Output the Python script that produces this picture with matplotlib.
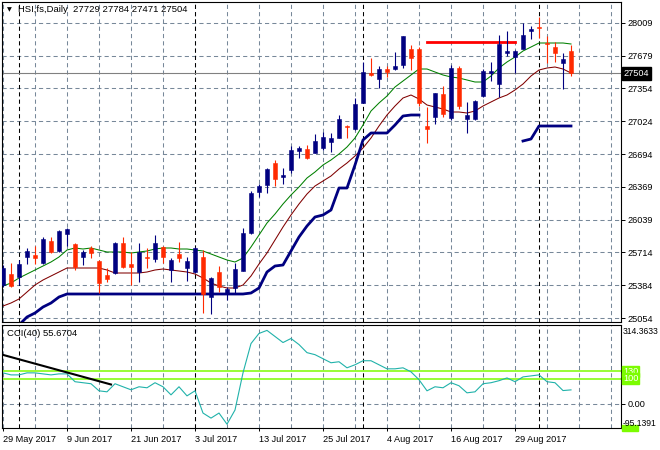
import numpy as np
import matplotlib.pyplot as plt
import matplotlib.transforms as mtransforms
from matplotlib.patches import Rectangle

plt.rcParams['font.family'] = ['Liberation Sans', 'DejaVu Sans']

nan = float('nan')

# daily OHLC, HSI futures, 29 May - 7 Sep 2017
opens = [25386, 25496, 25466, 25666, 25686, 25606, 25826, 25726, 25896, 25796,
         25666, 25756, 25626, 25486, 25506, 25806, 25596, 25516, 25666, 25646,
         25766, 25536, 25696, 25556, 25516, 25666, 25266, 25516, 25306, 25356,
         25526, 25906, 26316, 26386, 26606, 26466, 26536, 26726, 26746, 26706,
         26756, 26816, 26856, 26976, 26946, 27206, 27506, 27446, 27546, 27546,
         27586, 27746, 27746, 26976, 27066, 27296, 27056, 27556, 27046, 27046,
         27276, 27506, 27396, 27706, 27666, 27746, 27926, 27966, 27806, 27766,
         27606, 27729]
highs = [25586, 25606, 25636, 25756, 25776, 25866, 25866, 25936, 25956, 25806,
         25736, 25776, 25636, 25556, 25816, 25866, 25716, 25806, 25756, 25886,
         25776, 25656, 25816, 25666, 25766, 25736, 25466, 25576, 25366, 25606,
         25956, 26326, 26396, 26556, 26636, 26556, 26776, 26776, 26786, 26896,
         26916, 26906, 27086, 26986, 27256, 27616, 27656, 27576, 27576, 27716,
         27876, 27786, 27766, 27166, 27306, 27376, 27586, 27576, 27216, 27236,
         27546, 27616, 27886, 27926, 27736, 28006, 27976, 28066, 27876, 27816,
         27706, 27784]
lows = [25366, 25366, 25386, 25596, 25596, 25596, 25706, 25716, 25776, 25536,
        25586, 25656, 25306, 25416, 25496, 25556, 25386, 25416, 25556, 25616,
        25606, 25416, 25616, 25426, 25506, 25106, 25096, 25316, 25236, 25306,
        25526, 25896, 26266, 26306, 26376, 26396, 26506, 26656, 26646, 26706,
        26736, 26716, 26856, 26856, 26936, 27206, 27476, 27356, 27466, 27536,
        27556, 27536, 27176, 26806, 26996, 27066, 27036, 27146, 26906, 27036,
        27266, 27426, 27266, 27676, 27506, 27746, 27846, 27856, 27606, 27616,
        27346, 27471]
closes = [25556, 25376, 25596, 25726, 25656, 25846, 25716, 25926, 25946, 25566,
          25716, 25706, 25406, 25446, 25806, 25566, 25566, 25716, 25656, 25806,
          25666, 25636, 25656, 25626, 25756, 25296, 25456, 25366, 25346, 25546,
          25906, 26306, 26376, 26546, 26446, 26486, 26736, 26756, 26656, 26826,
          26866, 26856, 27046, 26966, 27196, 27516, 27486, 27546, 27516, 27576,
          27876, 27656, 27206, 26946, 27306, 27096, 27556, 27176, 27086, 27226,
          27526, 27526, 27796, 27726, 27726, 27886, 27946, 27956, 27796, 27706,
          27646, 27504]

# indicator lines
ma_green = [25376, 25406, 25456, 25496, 25536, 25576, 25616, 25666, 25736, 25756,
            25746, 25756, 25736, 25716, 25716, 25716, 25706, 25716, 25726, 25746,
            25756, 25756, 25746, 25746, 25736, 25726, 25696, 25666, 25636, 25616,
            25656, 25766, 25886, 26006, 26096, 26196, 26286, 26366, 26456, 26516,
            26586, 26636, 26696, 26766, 26856, 26986, 27126, 27206, 27276, 27366,
            27426, 27486, 27546, 27546, 27516, 27486, 27466, 27456, 27436, 27416,
            27416, 27476, 27556, 27616, 27666, 27726, 27766, 27806, 27806, 27806,
            27806, 27796]
ma_red = [25176, 25206, 25246, 25316, 25386, 25436, 25476, 25516, 25556, 25556,
          25556, 25556, 25556, 25536, 25506, 25506, 25506, 25506, 25516, 25536,
          25546, 25536, 25526, 25516, 25496, 25456, 25406, 25376, 25356, 25356,
          25386, 25476, 25596, 25706, 25836, 25966, 26086, 26196, 26296, 26376,
          26426, 26476, 26546, 26606, 26676, 26756, 26856, 26976, 27086, 27176,
          27256, 27286, 27246, 27186, 27166, 27146, 27116, 27116, 27106, 27126,
          27176, 27216, 27256, 27286, 27336, 27396, 27476, 27536, 27556, 27566,
          27546, 27506]
trail = [nan, nan, 24986, 25066, 25106, 25166, 25206, 25266, 25296, 25296,
         25296, 25296, 25296, 25296, 25296, 25296, 25296, 25296, 25296, 25296,
         25296, 25296, 25296, 25296, 25296, 25296, 25296, 25296, 25296, 25296,
         25296, 25306, 25356, 25516, 25576, 25586, 25726, 25866, 25976, 26066,
         26086, 26136, 26356, 26356, 26586, 26836, 26906, 26906, 26906, 26986,
         27076, 27086, 27086, nan, nan, nan, nan, nan, nan, nan,
         nan, nan, nan, nan, nan, 26826, 26846, 26976, 26976, 26976,
         26976, 26976]
cci = [123, 115, 115, 123, 123, 119, 115, 119, 119, 88,
       84, 80, 52, 48, 80, 68, 56, 68, 64, 84,
       68, 36, 68, 32, 52, -36, -56, -36, -80, -24,
       123, 239, 279, 291, 267, 243, 259, 235, 203, 195,
       179, 163, 167, 143, 155, 171, 171, 155, 139, 139,
       143, 127, 96, 52, 68, 64, 84, 72, 44, 48,
       80, 84, 92, 103, 88, 107, 111, 115, 88, 84,
       53, 55.67]

resistance = 27819          # red horizontal line
resistance_bars = [53, 64]
cci_trend = [[-0.1, 13.5], [195, 77]]
last_price = 27504

price_levels = [28009, 27679, 27354, 27024, 26694, 26369, 26039, 25714, 25384, 25054]
tick_pos = [0, 8, 16, 24, 32, 40, 48, 56, 64]
tick_labels = ['29 May 2017', '9 Jun 2017', '21 Jun 2017', '3 Jul 2017', '13 Jul 2017',
               '25 Jul 2017', '4 Aug 2017', '16 Aug 2017', '29 Aug 2017']
month_starts = [2, 24, 45, 67]

navy = '#000080'
bear = '#ff2a00'
gridc = '#778899'
lime = '#7cfc00'
fs = 6.6

W, H = 660, 450
fig = plt.figure(figsize=(6.6, 4.5), dpi=100)


def box(l, t, r, b):
    return [l / W, 1 - b / H, (r - l) / W, (b - t) / H]


ax = fig.add_axes(box(2, 2, 621, 322))
axc = fig.add_axes(box(2, 324.5, 621, 428))

x = np.arange(len(closes))
o = np.array(opens); c = np.array(closes)
up = c >= o
cols = [navy if u else bear for u in up]

xlim = (-0.125, 77.25)
for a in (ax, axc):
    a.set_xlim(*xlim)
    for g in range(0, 78, 4):
        a.axvline(g, color=gridc, lw=0.75, ls=(0, (4, 3)), zorder=0.5)
    for m in month_starts:
        a.axvline(m, color='black', lw=0.75, ls=(0, (4, 3)), zorder=0.6)
    for s in a.spines.values():
        s.set_color('black')
        s.set_linewidth(0.8)

# main price panel
ax.set_ylim(25016, 28216)
for lv in price_levels:
    ax.axhline(lv, color=gridc, lw=0.75, ls=(0, (4, 3)), zorder=0.5)
ax.axhline(last_price, color='#808080', lw=0.8, zorder=0.7)

ax.plot(x, ma_green, color='#008000', lw=0.75, zorder=2)
ax.plot(x, ma_red, color='#800000', lw=0.75, zorder=2)
ax.plot(x, trail, color=navy, lw=2.0, zorder=2)
ax.plot(resistance_bars, [resistance, resistance], color='#ff0000', lw=2.0, zorder=2)

ax.vlines(x, lows, highs, colors=cols, lw=0.8, zorder=3)
bottoms = np.minimum(o, c)
heights = np.maximum(np.abs(c - o), 9)
ax.bar(x, heights, bottom=bottoms, width=0.62, color=cols, edgecolor=cols,
       linewidth=0.4, zorder=4)

ax.set_yticks(price_levels)
ax.set_yticklabels([str(v) for v in price_levels])
ax.tick_params(axis='y', left=False, labelleft=False, right=True, labelright=True,
               length=3, pad=1.5, labelsize=fs, width=0.7)
ax.tick_params(axis='x', bottom=False, labelbottom=False)

tr = mtransforms.blended_transform_factory(ax.transAxes, ax.transData)
ax.text(1.0045, last_price, str(last_price), transform=tr, color='white', fontsize=fs,
        va='center', ha='left',
        bbox=dict(boxstyle='square,pad=0.2', fc='black', ec='black'), zorder=10)

fig.text(7 / W, 1 - 10 / H, '\u25bc', fontsize=4.5, va='center', ha='left',
         family=['DejaVu Sans'])
fig.text(18 / W, 1 - 10 / H, 'HSI,fs,Daily  27729 27784 27471 27504',
         fontsize=6.8, va='center', ha='left')

# CCI panel
axc.set_ylim(-95.1391, 314.3633)
axc.axhline(0, color=gridc, lw=0.75, ls=(0, (4, 3)), zorder=0.5)
axc.axhline(130, color=lime, lw=1.1, zorder=1)
axc.axhline(100, color=lime, lw=1.1, zorder=1)
axc.plot(x, cci, color='#20b2aa', lw=0.8, zorder=2)
axc.plot(cci_trend[0], cci_trend[1], color='black', lw=1.5, zorder=3)

axc.set_yticks([0])
axc.set_yticklabels(['0.00'])
axc.tick_params(axis='y', left=False, labelleft=False, right=True, labelright=True,
                length=3, pad=1.5, labelsize=fs, width=0.7)
axc.set_xticks(tick_pos)
axc.set_xticklabels(tick_labels, ha='left')
axc.tick_params(axis='x', length=2, pad=3, labelsize=fs, width=0.7)

trc = mtransforms.blended_transform_factory(axc.transAxes, axc.transData)
for lv in (130, 100):
    axc.text(1.003, lv, str(lv), transform=trc, color='white', fontsize=fs,
             va='center', ha='left',
             bbox=dict(boxstyle='square,pad=0.1', fc=lime, ec=lime), zorder=10)
fig.patches.append(Rectangle((622 / W, 1 - 431 / H), 16 / W, 6 / H,
                             transform=fig.transFigure, color=lime, zorder=1))
fig.text(623 / W, 1 - 332 / H, '314.3633', fontsize=6.2, va='center', ha='left')
fig.text(623 / W, 1 - 424 / H, '-95.1391', fontsize=6.2, va='center', ha='left')
fig.text(7 / W, 1 - 334 / H, 'CCI(40) 55.6704', fontsize=6.8, va='center', ha='left')

fig.savefig('out.png', dpi=100, facecolor='white')
